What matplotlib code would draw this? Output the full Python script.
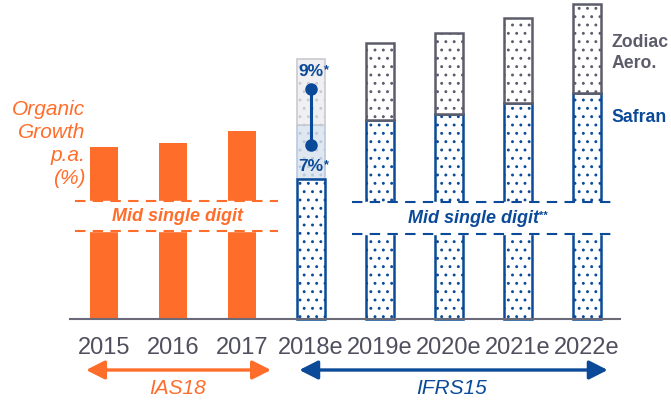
import numpy as np
import matplotlib
matplotlib.use("Agg")
from matplotlib import pyplot as plt

plt.rcParams['font.family'] = ['Liberation Sans', 'DejaVu Sans']
plt.rcParams['hatch.linewidth'] = 0.9

# Data (arbitrary height units)
years = ['2015', '2016', '2017', '2018e', '2019e', '2020e', '2021e', '2022e']
organic = [86, 88, 94]                       # 2015-2017, IAS18
safran = [70, 99.5, 102.3, 107.8, 112.8]     # 2018e-2022e
zodiac = [0, 38.3, 40.5, 42.7, 44.5]         # stacked on top of safran
guide_low, guide_high = 97, 130              # 2018e guidance box
dot_7, dot_9 = 87, 115                       # 7% / 9% markers

ORANGE = '#ff6d2b'
BLUE = '#0b4a98'
GREY = '#5c5c6b'
TXT = '#4f4f5e'

fig = plt.figure(figsize=(6.71, 4.02), dpi=100)
ax = fig.add_axes([0, 0, 1, 1])
ax.set_xlim(-104 / 69, (671 - 104) / 69)
ax.set_ylim(-41, 160)
ax.axis('off')

w = 0.41
x = np.arange(len(years))

# IAS18 bars
ax.bar(x[:3], organic, width=w, color=ORANGE, linewidth=0, zorder=2)

# IFRS15 bars
xs = x[3:]
ax.bar(xs, safran, width=w, color='white', edgecolor=BLUE, hatch='..', linewidth=1.8, zorder=2)
ax.bar(xs[1:], zodiac[1:], bottom=safran[1:], width=w, color='white', edgecolor=GREY,
       hatch='..', linewidth=1.8, zorder=2)

# 2018e guidance box
ax.bar(xs[0], guide_low - safran[0], bottom=safran[0], width=w, color='#dfe7f1',
       edgecolor='#b9c9de', hatch='..', linewidth=1.2, zorder=1)
ax.bar(xs[0], guide_high - guide_low, bottom=guide_low, width=w, color='#f0f0f2',
       edgecolor='#cbcbd0', hatch='..', linewidth=1.2, zorder=1)
ax.plot([xs[0], xs[0]], [dot_7, dot_9], color=BLUE, lw=2.2, marker='o', ms=8, zorder=4)

for val, ytxt in [('9%', 124.2), ('7%', 76.7)]:
    t = ax.text(xs[0], ytxt, val, color=BLUE, fontsize=12.5, fontweight='bold',
                ha='center', va='center', zorder=5)
    ax.annotate('*', xy=(1, 1), xycoords=t, color=BLUE, fontsize=9, fontweight='bold',
                ha='left', va='top', zorder=5)

# "Mid single digit" bands
ax.fill_between([-0.45, 2.55], 44, 59, color='white', zorder=3)
for yy in (44, 59):
    ax.plot([-0.42, 2.52], [yy, yy], color=ORANGE, lw=1.5, ls=(0, (5, 3.5)), zorder=4)
ax.text(1.07, 51.5, 'Mid single digit', color=ORANGE, fontsize=13, fontweight='bold',
        style='italic', ha='center', va='center', zorder=5)

ax.fill_between([3.59, 7.4], 42.5, 58.5, color='white', zorder=3)
for yy in (42.5, 58.5):
    ax.plot([3.59, 7.38], [yy, yy], color=BLUE, lw=1.5, ls=(0, (5, 3.5)), zorder=4)
t = ax.text(5.35, 50.5, 'Mid single digit', color=BLUE, fontsize=13, fontweight='bold',
            style='italic', ha='center', va='center', zorder=5)
ax.annotate('**', xy=(1, 1), xycoords=t, color=BLUE, fontsize=8, fontweight='bold',
            ha='left', va='top', zorder=5)

# baseline
ax.plot([-0.49, 7.48], [0, 0], color='#6a6a78', lw=1.5, zorder=4)

# x labels
for xi, lab in zip(x, years):
    ax.text(xi, -14, lab, color=TXT, fontsize=17, ha='center', va='center')

# left label
ax.text(-0.275, 88, 'Organic\nGrowth\np.a.\n(%)', color=ORANGE, fontsize=15, style='italic',
        ha='right', va='center', linespacing=1.25)

# legend labels
ax.text(7.35, 133.5, 'Zodiac\nAero.', color=GREY, fontsize=12.7, fontweight='bold',
        ha='left', va='center', linespacing=1.25)
ax.text(7.35, 101, 'Safran', color=BLUE, fontsize=12.7, fontweight='bold',
        ha='left', va='center')

# accounting standard arrows
for x0, x1, col, lab, xl in [(-0.26, 2.42, ORANGE, 'IAS18', 1.07),
                             (2.83, 7.30, BLUE, 'IFRS15', 5.04)]:
    ax.annotate('', xy=(x1, -25.5), xytext=(x0, -25.5),
                arrowprops=dict(arrowstyle='<|-|>,head_length=0.75,head_width=0.38',
                                color=col, lw=2.4, mutation_scale=15, shrinkA=0, shrinkB=0))
    ax.text(xl, -34.5, lab, color=col, fontsize=15, style='italic', ha='center', va='center')

fig.savefig('out.png', dpi=100)
